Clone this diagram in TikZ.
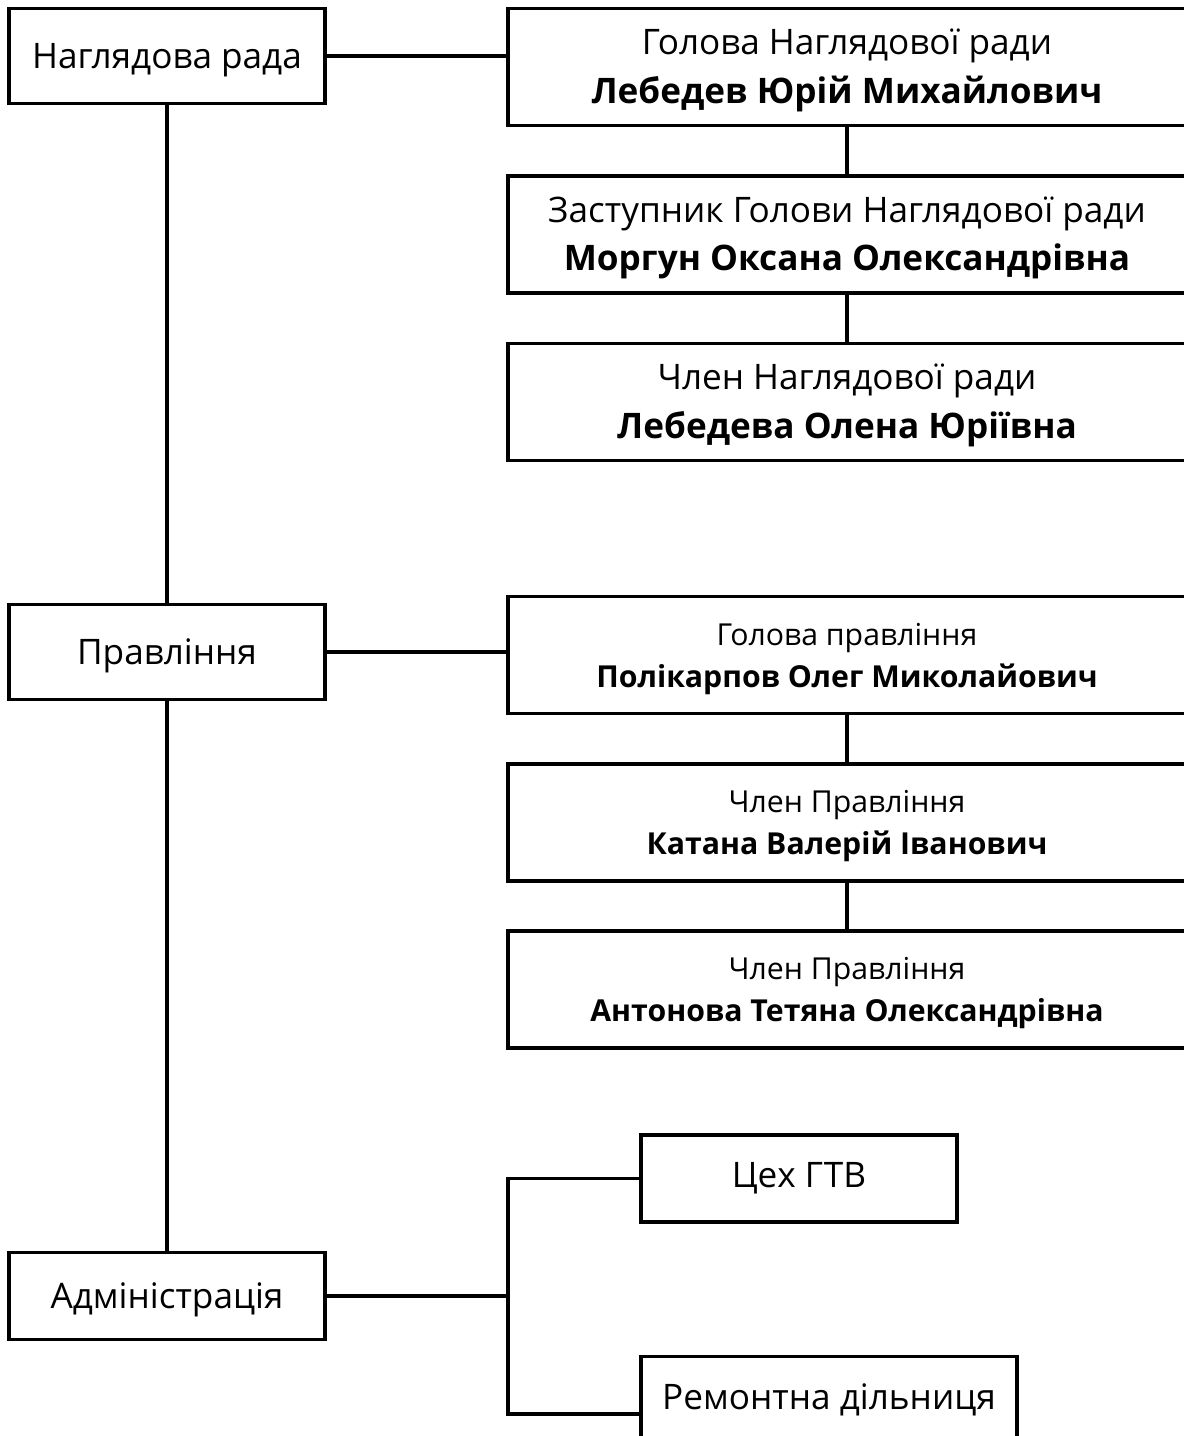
\documentclass[tikz,border=0pt]{standalone}
\usepackage{fontspec}
\setmainfont{Open Sans}
\begin{document}
\begin{tikzpicture}[x=0.025cm,y=-0.025cm,line width=2.5pt,
    unit/.style={draw,minimum width=7.9cm,minimum height=2.375cm,text depth=0pt,font=\fontsize{25}{30}\selectfont},
    member/.style={draw,align=center,minimum width=16.95cm,minimum height=2.925cm,text depth=0.1em,font=\fontsize{25}{34.5}\selectfont},
    board/.style={member,text depth=0pt,font=\fontsize{21.5}{30}\selectfont},
    dept/.style={draw,minimum width=7.9cm,minimum height=2.175cm,font=\fontsize{25}{30}\selectfont}]
    \path[use as bounding box,clip] (0,0) rectangle (1184,1436);

    \node[unit] (nr) at (167,56) {Наглядова рада};
    \node[unit] (pr) at (167,652) {Правління};
    \node[dept,text depth=0pt] (adm) at (167,1296) {Адміністрація};

    \node[member] (m1) at (847,67) {Голова Наглядової ради\\\textbf{Лебедев Юрій Михайлович}};
    \node[member] (m2) at (847,234.5) {Заступник Голови Наглядової ради\\\textbf{Моргун Оксана Олександрівна}};
    \node[member] (m3) at (847,402) {Член Наглядової ради\\\textbf{Лебедева Олена Юріївна}};

    \node[board] (m4) at (847,655) {Голова правління\\\textbf{Полікарпов Олег Миколайович}};
    \node[board] (m5) at (847,822.5) {Член Правління\\\textbf{Катана Валерій Іванович}};
    \node[board] (m6) at (847,989.5) {Член Правління\\\textbf{Антонова Тетяна Олександрівна}};

    \node[dept] (cex) at (799,1178.5) {Цех ГТВ};
    \node[dept,minimum width=9.4cm] (rem) at (829,1400) {Ремонтна дільниця};

    \coordinate (fork) at (508,1296);
    \coordinate (remin) at (641,1414);

    \draw (nr) -- (pr);
    \draw (pr) -- (adm);
    \draw (nr.east) -- (nr.east -| m1.west);
    \draw (pr.east) -- (pr.east -| m4.west);
    \draw (m1) -- (m2);
    \draw (m2) -- (m3);
    \draw (m4) -- (m5);
    \draw (m5) -- (m6);
    \draw (adm) -- (fork);
    \draw (cex.west) -| (fork) |- (remin);
\end{tikzpicture}
\end{document}
